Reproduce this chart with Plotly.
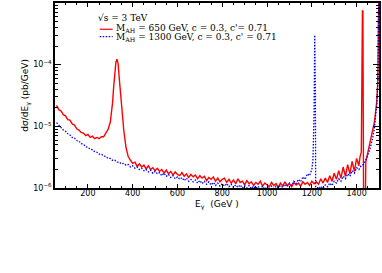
import plotly.graph_objects as go

# ---- data (photon energy in GeV, log10 of dsigma/dE in pb/GeV) ----
red_E = [60,70,80,90,100,110,120,130,140,150,160,170,180,190,200,210,220,230,240,250,
         260,270,280,290,300,310,315,320,325,330,335,340,345,350,360,370,380,390,400,410,
         420,430,440,450,460,470,480,490,500,510,520,530,540,550,560,570,580,590,600,610,
         620,630,640,650,660,670,680,690,700,710,720,730,740,750,760,770,780,790,800,810,
         820,830,840,850,860,870,880,890,900,910,920,930,940,950,960,970,980,990,1000,1010,
         1020,1030,1040,1050,1060,1070,1080,1090,1100,1110,1120,1130,1140,1150,1160,1170,1180,1190,1200,1210,
         1220,1230,1240,1250,1260,1270,1280,1290,1300,1310,1320,1330,1340,1350,1360,1370,1380,1390,1400,1410,
         1415,1421,1426,1428,1432,1437,1441,1450,1460,1470,1480,1490,1495,1499]
red_log = [-4.66,-4.73,-4.75,-4.81,-4.83,-4.89,-4.90,-4.96,-4.98,-5.04,-5.06,-5.10,-5.11,-5.15,-5.13,-5.18,-5.16,-5.20,-5.18,-5.20,
           -5.17,-5.17,-5.11,-5.05,-4.93,-4.62,-4.36,-4.14,-3.96,-3.91,-3.99,-4.22,-4.47,-4.72,-5.06,-5.34,-5.49,-5.55,-5.60,-5.58,
           -5.65,-5.61,-5.66,-5.63,-5.69,-5.64,-5.70,-5.67,-5.72,-5.68,-5.73,-5.70,-5.76,-5.71,-5.77,-5.73,-5.79,-5.74,-5.78,-5.80,
           -5.75,-5.81,-5.77,-5.83,-5.78,-5.82,-5.79,-5.85,-5.80,-5.84,-5.81,-5.88,-5.83,-5.86,-5.82,-5.89,-5.84,-5.90,-5.86,-5.84,
           -5.91,-5.86,-5.92,-5.87,-5.93,-5.85,-5.91,-5.89,-5.95,-5.88,-5.93,-5.90,-5.96,-5.91,-5.94,-5.89,-5.97,-5.92,-5.95,-5.98,
           -5.91,-5.96,-5.93,-5.99,-5.92,-5.97,-5.90,-5.96,-5.93,-5.98,-5.91,-5.95,-5.92,-5.97,-5.90,-5.94,-5.91,-5.96,-5.89,-5.93,
           -5.90,-5.94,-5.85,-5.92,-5.84,-5.91,-5.80,-5.89,-5.76,-5.86,-5.72,-5.84,-5.66,-5.81,-5.62,-5.77,-5.57,-5.73,-5.52,-5.64,
           -5.50,-5.42,-3.13,-3.13,-7.00,-7.00,-5.58,-5.42,-5.28,-5.12,-4.92,-4.60,-4.25,-2.80]

blue_E = [60,70,80,90,100,110,120,130,140,150,160,170,180,190,200,210,220,230,240,250,
          260,270,280,290,300,310,320,330,340,350,360,370,380,390,400,410,420,430,440,450,
          460,470,480,490,500,510,520,530,540,550,560,570,580,590,600,610,620,630,640,650,
          660,670,680,690,700,710,720,730,740,750,760,770,780,790,800,810,820,830,840,850,
          860,870,880,890,900,910,920,930,940,950,960,970,980,990,1000,1010,1020,1030,1040,1050,
          1060,1070,1080,1090,1100,1110,1120,1130,1140,1150,1160,1170,1180,1190,1200,1205,1210,1213,1216,1218,
          1222,1226,1230,1240,1250,1260,1270,1280,1290,1300,1310,1320,1330,1340,1350,1360,1370,1380,1390,1400,
          1410,1420,1430,1440,1450,1460,1470,1480,1490,1495,1499]
blue_log = [-4.94,-4.99,-5.02,-5.06,-5.08,-5.12,-5.14,-5.18,-5.19,-5.23,-5.24,-5.28,-5.29,-5.33,-5.34,-5.37,-5.38,-5.41,-5.42,-5.45,
            -5.45,-5.48,-5.49,-5.52,-5.52,-5.55,-5.55,-5.58,-5.58,-5.61,-5.60,-5.63,-5.62,-5.66,-5.64,-5.68,-5.66,-5.70,-5.68,-5.72,
            -5.70,-5.74,-5.71,-5.76,-5.73,-5.77,-5.75,-5.80,-5.76,-5.81,-5.78,-5.83,-5.80,-5.85,-5.82,-5.86,-5.83,-5.88,-5.84,-5.89,
            -5.86,-5.90,-5.87,-5.92,-5.88,-5.93,-5.89,-5.94,-5.90,-5.95,-5.91,-5.96,-5.92,-5.97,-5.93,-5.97,-5.93,-5.98,-5.94,-5.99,
            -5.95,-5.99,-5.95,-6.00,-5.96,-6.00,-5.96,-6.01,-5.97,-6.01,-5.97,-6.02,-5.97,-6.02,-5.98,-6.02,-5.97,-6.01,-5.97,-6.00,
            -5.96,-5.99,-5.94,-5.98,-5.92,-5.96,-5.89,-5.93,-5.86,-5.90,-5.82,-5.86,-5.77,-5.80,-5.70,-5.55,-4.80,-3.52,-4.50,-7.00,
            -7.00,-5.98,-6.02,-5.97,-6.01,-5.95,-5.98,-5.92,-5.96,-5.89,-5.92,-5.85,-5.89,-5.81,-5.85,-5.77,-5.81,-5.72,-5.76,-5.67,
            -5.70,-5.64,-5.62,-5.55,-5.47,-5.36,-5.22,-5.02,-4.65,-4.30,-2.80]

red_val = [10 ** v for v in red_log]
blue_val = [10 ** v for v in blue_log]

y_major = [1e-6, 1e-5, 1e-4]
y_major_text = ["10<sup>\u22126</sup>", "10<sup>\u22125</sup>", "10<sup>\u22124</sup>"]
y_minor = [m * d for d in (1e-6, 1e-5, 1e-4) for m in range(2, 10)]

legend_title = "\u221as = 3 TeV"
label_red = "M<sub>AH</sub> = 650 GeV, c = 0.3, c'= 0.71"
label_blue = "M<sub>AH</sub> = 1300 GeV, c = 0.3, c' = 0.71"
x_title = "E<sub>\u03b3</sub>  (GeV )"
y_title = "d\u03c3/dE<sub>\u03b3</sub> (pb/GeV)"

fig = go.Figure()
fig.add_trace(go.Scatter(x=red_E, y=red_val, mode="lines",
                         line=dict(color="#ff0000", width=1.4), showlegend=False))
fig.add_trace(go.Scatter(x=blue_E, y=blue_val, mode="lines",
                         line=dict(color="#0000ff", width=1.3, dash="1.5px,1.5px"), showlegend=False))

serif = "DejaVu Serif"
fig.add_annotation(xref="paper", yref="paper", x=0.128, y=0.918, xanchor="left", yanchor="middle",
                   text=legend_title, showarrow=False, font=dict(family=serif, size=9, color="black"))
fig.add_annotation(xref="paper", yref="paper", x=0.182, y=0.862, xanchor="left", yanchor="middle",
                   text=label_red, showarrow=False, font=dict(family=serif, size=9, color="black"))
fig.add_annotation(xref="paper", yref="paper", x=0.182, y=0.815, xanchor="left", yanchor="middle",
                   text=label_blue, showarrow=False, font=dict(family=serif, size=9, color="black"))
fig.add_shape(type="line", xref="paper", yref="paper", x0=0.138, x1=0.178, y0=0.858, y1=0.858,
              line=dict(color="#ff0000", width=1.2))
fig.add_shape(type="line", xref="paper", yref="paper", x0=0.138, x1=0.178, y0=0.818, y1=0.818,
              line=dict(color="#0000ff", width=1.2, dash="1.5px,1.5px"))

# axis titles
fig.add_annotation(xref="paper", yref="paper", x=0.5, y=-0.092, xanchor="center", yanchor="middle",
                   text=x_title, showarrow=False, font=dict(family="DejaVu Sans", size=9, color="black"))
fig.add_annotation(xref="paper", yref="paper", x=-0.092, y=0.5, xanchor="center", yanchor="middle",
                   text=y_title, textangle=-90, showarrow=False,
                   font=dict(family="DejaVu Sans", size=9, color="black"))

fig.update_layout(
    width=382, height=273,
    margin=dict(l=55, r=2, t=1, b=85),
    plot_bgcolor="white", paper_bgcolor="white",
    font=dict(family="DejaVu Sans", size=8, color="black"),
)
fig.update_xaxes(
    range=[53, 1500], showgrid=False, zeroline=False,
    showline=True, linecolor="black", linewidth=1.5, mirror="ticks",
    ticks="inside", ticklen=4, tickwidth=1, tickcolor="black",
    tickvals=[200, 400, 600, 800, 1000, 1200, 1400],
    minor=dict(ticks="inside", ticklen=2, tickcolor="black", dtick=50, tick0=0, showgrid=False),
    tickfont=dict(size=8), ticklabelstandoff=-3,
)
fig.update_yaxes(
    type="log", range=[-6, -3], showgrid=False, zeroline=False,
    showline=True, linecolor="black", linewidth=1.5, mirror="ticks",
    ticks="inside", ticklen=6, tickwidth=1, tickcolor="black",
    tickvals=y_major, ticktext=y_major_text,
    minor=dict(ticks="inside", ticklen=3, tickcolor="black", tickvals=y_minor, showgrid=False),
    tickfont=dict(size=8),
)

fig.write_html("out.html", config={"displayModeBar": False},
               post_script="document.body.style.margin='0';")
